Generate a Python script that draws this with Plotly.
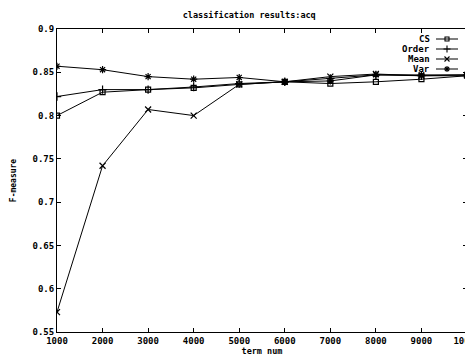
import plotly.graph_objects as go

term_num = [1000, 2000, 3000, 4000, 5000, 6000, 7000, 8000, 9000, 10000]
cs_vals = [0.800, 0.827, 0.830, 0.832, 0.836, 0.839, 0.837, 0.839, 0.842, 0.846]
order_vals = [0.822, 0.830, 0.830, 0.833, 0.837, 0.839, 0.843, 0.847, 0.846, 0.846]
mean_vals = [0.573, 0.742, 0.807, 0.800, 0.836, 0.839, 0.845, 0.848, 0.846, 0.847]
var_vals = [0.857, 0.853, 0.845, 0.842, 0.844, 0.839, 0.840, 0.847, 0.847, 0.847]

series_names = ["CS", "Order", "Mean", "Var"]
y_ticks = [0.55, 0.6, 0.65, 0.7, 0.75, 0.8, 0.85, 0.9]
y_tick_text = ["0.55", "0.6", "0.65", "0.7", "0.75", "0.8", "0.85", "0.9"]
x_ticks = term_num

font_family = "DejaVu Sans Mono"
W, H = 473, 360
OFF = 8  # default page body margin shifts the figure by this much
L, R, T, B = 57, 467, 29, 332  # plot area in on-screen pixels

symbols = ["square-open", "cross-thin-open", "x-thin-open", "asterisk-open"]
sizes = [5, 6, 6, 6]
all_vals = [cs_vals, order_vals, mean_vals, var_vals]

fig = go.Figure()
for name, vals, sym, sz in zip(series_names, all_vals, symbols, sizes):
    fig.add_trace(go.Scatter(
        x=term_num, y=vals, name=name, mode="lines+markers", showlegend=False,
        line=dict(color="black", width=1),
        marker=dict(symbol=sym, size=sz, color="black",
                    line=dict(color="black", width=1.2)),
    ))

# legend key (top-right, gnuplot-style: label then sample), placed in screen-pixel space
leg_text_x, leg_line_x0, leg_line_x1 = 432, 436, 458
leg_row0, leg_row_gap = 39, 10
for i, (name, sym, sz) in enumerate(zip(series_names, symbols, sizes)):
    ry = leg_row0 + i * leg_row_gap
    fig.add_trace(go.Scatter(
        x=[leg_line_x0, (leg_line_x0 + leg_line_x1) / 2, leg_line_x1], y=[ry, ry, ry],
        mode="lines", xaxis="x2", yaxis="y2", showlegend=False, hoverinfo="skip",
        line=dict(color="black", width=1),
    ))
    fig.add_trace(go.Scatter(
        x=[(leg_line_x0 + leg_line_x1) / 2], y=[ry],
        mode="markers", xaxis="x2", yaxis="y2", showlegend=False, hoverinfo="skip",
        marker=dict(symbol=sym, size=sz - 1, color="black",
                    line=dict(color="black", width=1.1)),
    ))
    fig.add_annotation(x=leg_text_x, y=ry, xref="x2", yref="y2", text=name,
                       showarrow=False, xanchor="right", yanchor="middle",
                       font=dict(family=font_family, size=9, weight="bold"))

fig.update_layout(
    width=W, height=H,
    margin=dict(l=L - OFF, r=W - (R - OFF), t=T - OFF, b=H - (B - OFF)),
    paper_bgcolor="white", plot_bgcolor="white",
    font=dict(family=font_family, size=9, color="black", weight="bold"),
    title=dict(text="classification results:acq", x=0.51, xanchor="center",
               y=1 - (15 - OFF) / H, yanchor="middle", automargin=False,
               font=dict(family=font_family, size=8.5, color="black", weight="bold")),
    showlegend=False,
    xaxis=dict(range=[1000, 10000], tickvals=x_ticks,
               ticktext=[str(v) for v in x_ticks],
               ticklabeloverflow="allow", automargin=False,
               showgrid=False, zeroline=False, showline=True,
               linecolor="black", linewidth=1, mirror="ticks",
               ticks="inside", ticklen=4, tickcolor="black",
               title=dict(text="term num", standoff=1,
                          font=dict(family=font_family, size=8.5, weight="bold"))),
    yaxis=dict(range=[0.55, 0.9], tickvals=y_ticks, ticktext=y_tick_text,
               automargin=False,
               showgrid=False, zeroline=False, showline=True,
               linecolor="black", linewidth=1, mirror="ticks",
               ticks="inside", ticklen=4, tickcolor="black",
               title=dict(text="F-measure", standoff=14,
                          font=dict(family=font_family, size=8, weight="bold"))),
    xaxis2=dict(range=[L, R], overlaying="x", visible=False, fixedrange=True,
                automargin=False),
    yaxis2=dict(range=[B, T], overlaying="y", visible=False, fixedrange=True,
                automargin=False),
)

fig.write_html("out.html", config={"displayModeBar": False})
